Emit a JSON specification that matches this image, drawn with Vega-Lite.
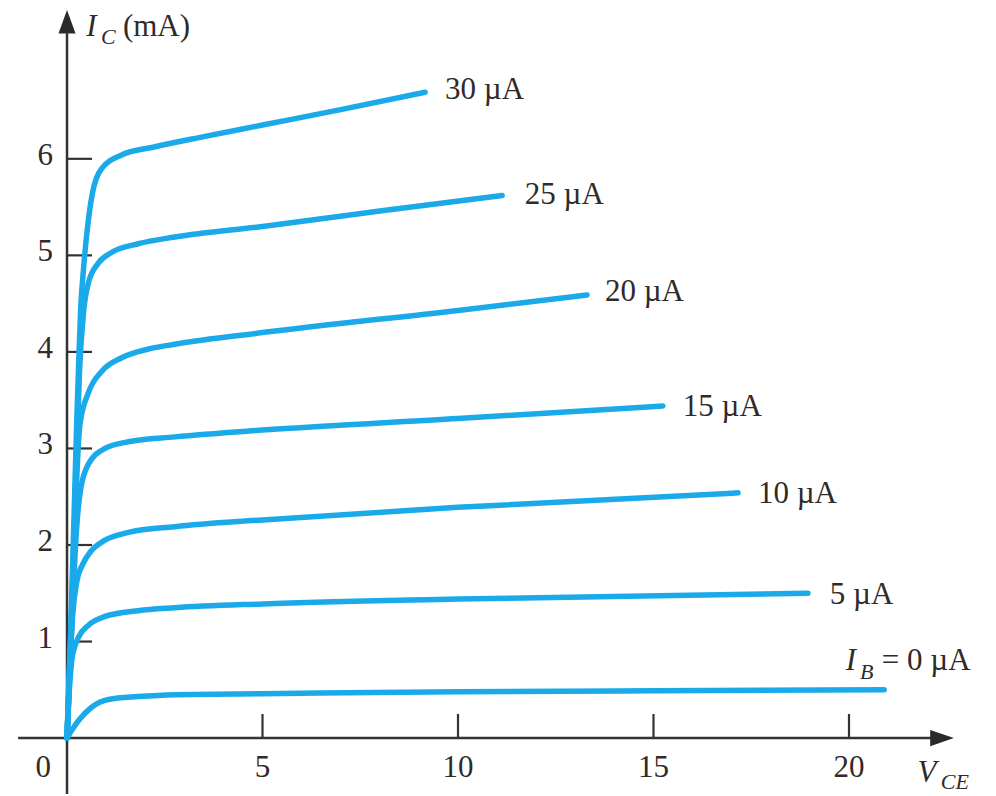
{
  "$schema": "https://vega.github.io/schema/vega-lite/v6.json",
  "width": 996,
  "height": 796,
  "padding": 0,
  "autosize": {"type": "fit", "contains": "padding"},
  "background": "white",
  "config": {"view": {"stroke": null}},
  "datasets": {
    "curves": [
      {"ib": "30", "v": 0, "i": 0}, {"ib": "30", "v": 0.1, "i": 1.2}, {"ib": "30", "v": 0.18, "i": 2.3}, {"ib": "30", "v": 0.25, "i": 3.3}, {"ib": "30", "v": 0.3, "i": 3.9}, {"ib": "30", "v": 0.35, "i": 4.45}, {"ib": "30", "v": 0.42, "i": 4.85}, {"ib": "30", "v": 0.5, "i": 5.2}, {"ib": "30", "v": 0.63, "i": 5.6}, {"ib": "30", "v": 0.89, "i": 5.9}, {"ib": "30", "v": 1.4, "i": 6.04}, {"ib": "30", "v": 2.2, "i": 6.12}, {"ib": "30", "v": 3.5, "i": 6.23}, {"ib": "30", "v": 5, "i": 6.35}, {"ib": "30", "v": 7, "i": 6.51}, {"ib": "30", "v": 9.16, "i": 6.69},
      {"ib": "25", "v": 0, "i": 0}, {"ib": "25", "v": 0.1, "i": 1.1}, {"ib": "25", "v": 0.18, "i": 2.1}, {"ib": "25", "v": 0.25, "i": 3.0}, {"ib": "25", "v": 0.32, "i": 3.8}, {"ib": "25", "v": 0.42, "i": 4.4}, {"ib": "25", "v": 0.55, "i": 4.72}, {"ib": "25", "v": 0.8, "i": 4.92}, {"ib": "25", "v": 1.14, "i": 5.03}, {"ib": "25", "v": 1.82, "i": 5.12}, {"ib": "25", "v": 2.76, "i": 5.19}, {"ib": "25", "v": 5, "i": 5.3}, {"ib": "25", "v": 8, "i": 5.46}, {"ib": "25", "v": 11.13, "i": 5.62},
      {"ib": "20", "v": 0, "i": 0}, {"ib": "20", "v": 0.1, "i": 1.0}, {"ib": "20", "v": 0.18, "i": 1.9}, {"ib": "20", "v": 0.25, "i": 2.7}, {"ib": "20", "v": 0.33, "i": 3.25}, {"ib": "20", "v": 0.55, "i": 3.58}, {"ib": "20", "v": 0.89, "i": 3.8}, {"ib": "20", "v": 1.4, "i": 3.94}, {"ib": "20", "v": 2.08, "i": 4.03}, {"ib": "20", "v": 2.76, "i": 4.08}, {"ib": "20", "v": 5, "i": 4.2}, {"ib": "20", "v": 10, "i": 4.43}, {"ib": "20", "v": 13.3, "i": 4.59},
      {"ib": "15", "v": 0, "i": 0}, {"ib": "15", "v": 0.1, "i": 0.95}, {"ib": "15", "v": 0.18, "i": 1.7}, {"ib": "15", "v": 0.25, "i": 2.2}, {"ib": "15", "v": 0.35, "i": 2.58}, {"ib": "15", "v": 0.55, "i": 2.84}, {"ib": "15", "v": 0.97, "i": 3.0}, {"ib": "15", "v": 1.57, "i": 3.07}, {"ib": "15", "v": 2.76, "i": 3.12}, {"ib": "15", "v": 5, "i": 3.19}, {"ib": "15", "v": 10, "i": 3.31}, {"ib": "15", "v": 15.24, "i": 3.44},
      {"ib": "10", "v": 0, "i": 0}, {"ib": "10", "v": 0.08, "i": 0.8}, {"ib": "10", "v": 0.15, "i": 1.3}, {"ib": "10", "v": 0.25, "i": 1.62}, {"ib": "10", "v": 0.4, "i": 1.8}, {"ib": "10", "v": 0.6, "i": 1.93}, {"ib": "10", "v": 0.97, "i": 2.05}, {"ib": "10", "v": 1.57, "i": 2.13}, {"ib": "10", "v": 2.76, "i": 2.19}, {"ib": "10", "v": 5, "i": 2.26}, {"ib": "10", "v": 10, "i": 2.39}, {"ib": "10", "v": 17.16, "i": 2.54},
      {"ib": "5", "v": 0, "i": 0}, {"ib": "5", "v": 0.06, "i": 0.5}, {"ib": "5", "v": 0.12, "i": 0.8}, {"ib": "5", "v": 0.2, "i": 0.95}, {"ib": "5", "v": 0.3, "i": 1.05}, {"ib": "5", "v": 0.55, "i": 1.17}, {"ib": "5", "v": 0.97, "i": 1.26}, {"ib": "5", "v": 1.82, "i": 1.32}, {"ib": "5", "v": 2.76, "i": 1.35}, {"ib": "5", "v": 5, "i": 1.39}, {"ib": "5", "v": 10, "i": 1.44}, {"ib": "5", "v": 18.95, "i": 1.5},
      {"ib": "0", "v": 0, "i": 0}, {"ib": "0", "v": 0.12, "i": 0.08}, {"ib": "0", "v": 0.29, "i": 0.18}, {"ib": "0", "v": 0.63, "i": 0.32}, {"ib": "0", "v": 1.06, "i": 0.4}, {"ib": "0", "v": 1.82, "i": 0.43}, {"ib": "0", "v": 2.76, "i": 0.45}, {"ib": "0", "v": 5, "i": 0.46}, {"ib": "0", "v": 10, "i": 0.48}, {"ib": "0", "v": 15, "i": 0.49}, {"ib": "0", "v": 20.9, "i": 0.5}
    ],
    "axes": [
      {"v": -1.25, "v2": 22.2, "i": 0, "i2": 0},
      {"v": 0, "v2": 0, "i": -0.58, "i2": 7.3}
    ],
    "xticks": [
      {"v": 5, "i": 0, "i2": 0.25}, {"v": 10, "i": 0, "i2": 0.25}, {"v": 15, "i": 0, "i2": 0.25}, {"v": 20, "i": 0, "i2": 0.25}
    ],
    "yticks": [
      {"i": 1, "v": 0, "v2": 0.64}, {"i": 2, "v": 0, "v2": 0.64}, {"i": 3, "v": 0, "v2": 0.64}, {"i": 4, "v": 0, "v2": 0.64}, {"i": 5, "v": 0, "v2": 0.64}, {"i": 6, "v": 0, "v2": 0.64}
    ],
    "xlabels": [
      {"v": -0.61, "i": -0.31, "t": "0"}, {"v": 5, "i": -0.31, "t": "5"}, {"v": 10, "i": -0.31, "t": "10"}, {"v": 15, "i": -0.31, "t": "15"}, {"v": 20, "i": -0.31, "t": "20"}
    ],
    "ylabels": [
      {"v": -0.36, "i": 1, "t": "1"}, {"v": -0.36, "i": 2, "t": "2"}, {"v": -0.36, "i": 3, "t": "3"}, {"v": -0.36, "i": 4, "t": "4"}, {"v": -0.36, "i": 5, "t": "5"}, {"v": -0.36, "i": 6, "t": "6"}
    ],
    "curvelabels": [
      {"v": 9.67, "i": 6.71, "t": "30 µA"},
      {"v": 11.71, "i": 5.63, "t": "25 µA"},
      {"v": 13.76, "i": 4.62, "t": "20 µA"},
      {"v": 15.75, "i": 3.43, "t": "15 µA"},
      {"v": 17.67, "i": 2.53, "t": "10 µA"},
      {"v": 19.51, "i": 1.48, "t": "5 µA"},
      {"v": 20.84, "i": 0.8, "t": "= 0 µA"},
      {"v": 1.43, "i": 7.37, "t": "(mA)"}
    ],
    "italics": [
      {"v": 19.92, "i": 0.8, "t": "I"},
      {"v": 0.49, "i": 7.37, "t": "I"},
      {"v": 21.75, "i": -0.36, "t": "V"}
    ],
    "subs": [
      {"v": 20.28, "i": 0.68, "t": "B"},
      {"v": 0.87, "i": 7.26, "t": "C"},
      {"v": 22.35, "i": -0.45, "t": "CE"}
    ],
    "arrows": [
      {"v": 0, "i": 7.42, "dir": "up"},
      {"v": 22.38, "i": 0, "dir": "right"}
    ]
  },
  "layer": [
    {
      "data": {"name": "axes"},
      "mark": {"type": "rule", "color": "#333333", "strokeWidth": 2.5},
      "encoding": {
        "x": {"field": "v", "type": "quantitative", "scale": {"domain": [-1.714, 23.76], "nice": false, "zero": false}, "axis": null},
        "x2": {"field": "v2"},
        "y": {"field": "i", "type": "quantitative", "scale": {"domain": [-0.579, 7.645], "nice": false, "zero": false}, "axis": null},
        "y2": {"field": "i2"}
      }
    },
    {
      "data": {"name": "xticks"},
      "mark": {"type": "rule", "color": "#333333", "strokeWidth": 2.2},
      "encoding": {
        "x": {"field": "v", "type": "quantitative"},
        "y": {"field": "i", "type": "quantitative"},
        "y2": {"field": "i2"}
      }
    },
    {
      "data": {"name": "yticks"},
      "mark": {"type": "rule", "color": "#333333", "strokeWidth": 2.2},
      "encoding": {
        "y": {"field": "i", "type": "quantitative"},
        "x": {"field": "v", "type": "quantitative"},
        "x2": {"field": "v2"}
      }
    },
    {
      "data": {"name": "arrows"},
      "transform": [{"filter": "datum.dir === 'up'"}],
      "mark": {"type": "point", "shape": "M0,-1L0.72,1L-0.72,1Z", "size": 560, "filled": true, "color": "#2a2a2a", "opacity": 1},
      "encoding": {
        "x": {"field": "v", "type": "quantitative"},
        "y": {"field": "i", "type": "quantitative"}
      }
    },
    {
      "data": {"name": "arrows"},
      "transform": [{"filter": "datum.dir === 'right'"}],
      "mark": {"type": "point", "shape": "M1,0L-1,0.68L-1,-0.68Z", "size": 560, "filled": true, "color": "#2a2a2a", "opacity": 1},
      "encoding": {
        "x": {"field": "v", "type": "quantitative"},
        "y": {"field": "i", "type": "quantitative"}
      }
    },
    {
      "data": {"name": "curves"},
      "mark": {"type": "line", "color": "#1aaae9", "strokeWidth": 5.5, "interpolate": "monotone", "strokeCap": "round", "strokeJoin": "round"},
      "encoding": {
        "x": {"field": "v", "type": "quantitative"},
        "y": {"field": "i", "type": "quantitative"},
        "detail": {"field": "ib", "type": "nominal"},
        "order": {"field": "v", "type": "quantitative"}
      }
    },
    {
      "data": {"name": "xlabels"},
      "mark": {"type": "text", "font": "Liberation Serif", "fontSize": 31, "color": "#302a28", "align": "center", "baseline": "middle"},
      "encoding": {
        "x": {"field": "v", "type": "quantitative"},
        "y": {"field": "i", "type": "quantitative"},
        "text": {"field": "t"}
      }
    },
    {
      "data": {"name": "ylabels"},
      "mark": {"type": "text", "font": "Liberation Serif", "fontSize": 31, "color": "#302a28", "align": "right", "baseline": "middle", "dy": -3},
      "encoding": {
        "x": {"field": "v", "type": "quantitative"},
        "y": {"field": "i", "type": "quantitative"},
        "text": {"field": "t"}
      }
    },
    {
      "data": {"name": "curvelabels"},
      "mark": {"type": "text", "font": "Liberation Serif", "fontSize": 31, "color": "#302a28", "align": "left", "baseline": "middle"},
      "encoding": {
        "x": {"field": "v", "type": "quantitative"},
        "y": {"field": "i", "type": "quantitative"},
        "text": {"field": "t"}
      }
    },
    {
      "data": {"name": "italics"},
      "mark": {"type": "text", "font": "Liberation Serif", "fontSize": 31, "fontStyle": "italic", "color": "#302a28", "align": "left", "baseline": "middle"},
      "encoding": {
        "x": {"field": "v", "type": "quantitative"},
        "y": {"field": "i", "type": "quantitative"},
        "text": {"field": "t"}
      }
    },
    {
      "data": {"name": "subs"},
      "mark": {"type": "text", "font": "Liberation Serif", "fontSize": 22, "fontStyle": "italic", "color": "#302a28", "align": "left", "baseline": "middle"},
      "encoding": {
        "x": {"field": "v", "type": "quantitative"},
        "y": {"field": "i", "type": "quantitative"},
        "text": {"field": "t"}
      }
    }
  ]
}
